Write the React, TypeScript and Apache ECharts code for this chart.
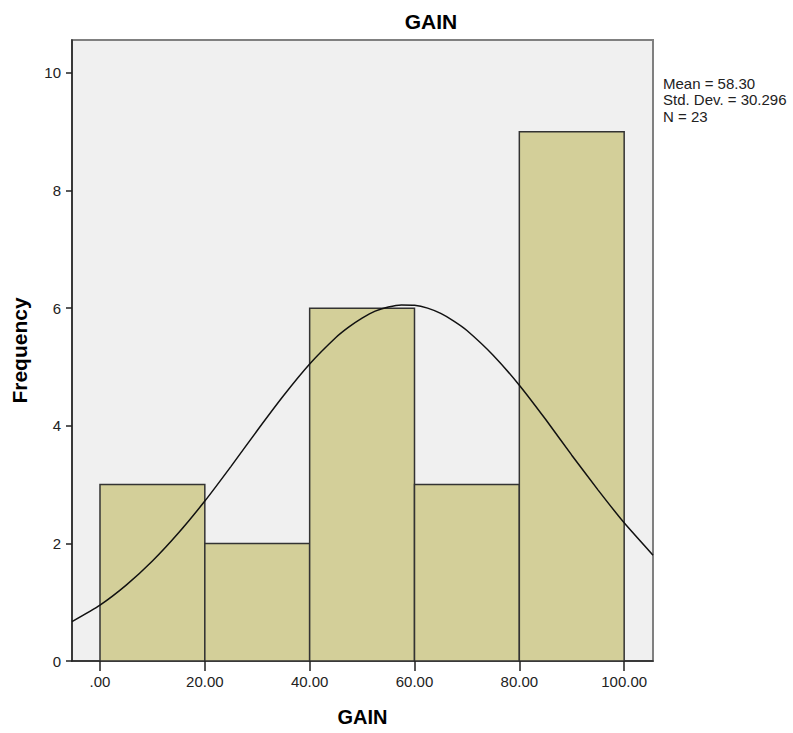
import React, { useEffect, useRef } from "react";
import * as echarts from "echarts";

// Histogram bins (GAIN) and frequencies
const binStarts = [0, 20, 40, 60, 80];
const binEnds = [20, 40, 60, 80, 100];
const frequencies = [3, 2, 6, 3, 9];

// Normal curve
const curveX = [-5.34, 0, 5, 10, 15, 20, 25, 30, 35, 40, 45, 47.5, 50, 52.5, 55, 57.5, 60, 62.5, 65, 67.5, 70, 75, 80, 85, 90, 95, 100, 105.5];
const curveY = [0.67, 0.95, 1.29, 1.7, 2.18, 2.72, 3.31, 3.92, 4.51, 5.05, 5.5, 5.68, 5.83, 5.95, 6.02, 6.055, 6.05, 6.0, 5.91, 5.78, 5.62, 5.2, 4.69, 4.11, 3.5, 2.91, 2.35, 1.8];

const xTicks = [0, 20, 40, 60, 80, 100];
const yTicks = [0, 2, 4, 6, 8, 10];

const statLines = ["Mean = 58.30", "Std. Dev. = 30.296", "N = 23"];

const FONT = "'Liberation Sans', Arial, sans-serif";

export default function App() {
  const ref = useRef<HTMLDivElement>(null);

  useEffect(() => {
    if (!ref.current) return;
    const chart = echarts.init(ref.current, undefined, { renderer: "svg" });

    const barData = binStarts.map((s, i) => [s, binEnds[i], frequencies[i]]);
    const curveData = curveX.map((x, i) => [x, curveY[i]]);

    chart.setOption({
      animation: false,
      backgroundColor: "#ffffff",
      textStyle: { fontFamily: FONT },
      grid: {
        left: 72,
        right: 140,
        top: 40,
        bottom: 72,
        show: true,
        backgroundColor: "#f0f0f0",
        borderColor: "#808080",
        borderWidth: 2,
      },
      xAxis: {
        type: "value",
        min: -5.34,
        max: 105.5,
        name: "GAIN",
        nameLocation: "middle",
        nameGap: 46,
        nameTextStyle: { fontSize: 20, fontWeight: "bold", color: "#000", fontFamily: FONT },
        splitLine: { show: false },
        axisLine: { show: true, onZero: false, lineStyle: { color: "#222", width: 1.5 } },
        axisTick: { show: true, customValues: xTicks, length: 10, lineStyle: { color: "#222", width: 1.5 } },
        axisLabel: {
          customValues: xTicks,
          margin: 13,
          fontSize: 15,
          color: "#222",
          fontFamily: FONT,
          formatter: (v: number) => (v === 0 ? ".00" : v.toFixed(2)),
        },
      },
      yAxis: {
        type: "value",
        min: 0,
        max: 10.56,
        name: "Frequency",
        nameLocation: "middle",
        nameRotate: 90,
        nameGap: 42,
        nameTextStyle: { fontSize: 21, fontWeight: "bold", color: "#000", fontFamily: FONT },
        splitLine: { show: false },
        axisLine: { show: true, onZero: false, lineStyle: { color: "#222", width: 1.5 } },
        axisTick: { show: true, customValues: yTicks, length: 6, lineStyle: { color: "#222", width: 1.5 } },
        axisLabel: {
          customValues: yTicks,
          margin: 11,
          fontSize: 15,
          color: "#222",
          fontFamily: FONT,
        },
      },
      series: [
        {
          type: "custom",
          data: barData,
          clip: true,
          encode: { x: [0, 1], y: 2 },
          renderItem: (params: any, api: any) => {
            const p0 = api.coord([api.value(0), 0]);
            const p1 = api.coord([api.value(1), api.value(2)]);
            return {
              type: "rect",
              shape: { x: p0[0], y: p1[1], width: p1[0] - p0[0], height: p0[1] - p1[1] },
              style: { fill: "#d3cf99", stroke: "#333333", lineWidth: 1.5 },
            };
          },
          z: 2,
        },
        {
          type: "line",
          data: curveData,
          smooth: 0.2,
          showSymbol: false,
          symbol: "none",
          clip: true,
          lineStyle: { color: "#111", width: 1.5 },
          z: 3,
        },
      ],
      graphic: [
        {
          type: "text",
          x: 431,
          y: 21,
          style: {
            text: "GAIN",
            fontSize: 21,
            fontWeight: "bold",
            fill: "#000",
            fontFamily: FONT,
            align: "center",
            verticalAlign: "middle",
          },
        },
        ...statLines.map((t, i) => ({
          type: "text",
          x: 663,
          y: 83 + i * 16.5,
          style: {
            text: t,
            fontSize: 15,
            fill: "#222",
            fontFamily: FONT,
            align: "left",
            verticalAlign: "middle",
          },
        })),
      ],
    });

    return () => chart.dispose();
  }, []);

  return (
    <div
      ref={ref}
      style={{ position: "absolute", left: 0, top: 0, width: 793, height: 733 }}
    />
  );
}
